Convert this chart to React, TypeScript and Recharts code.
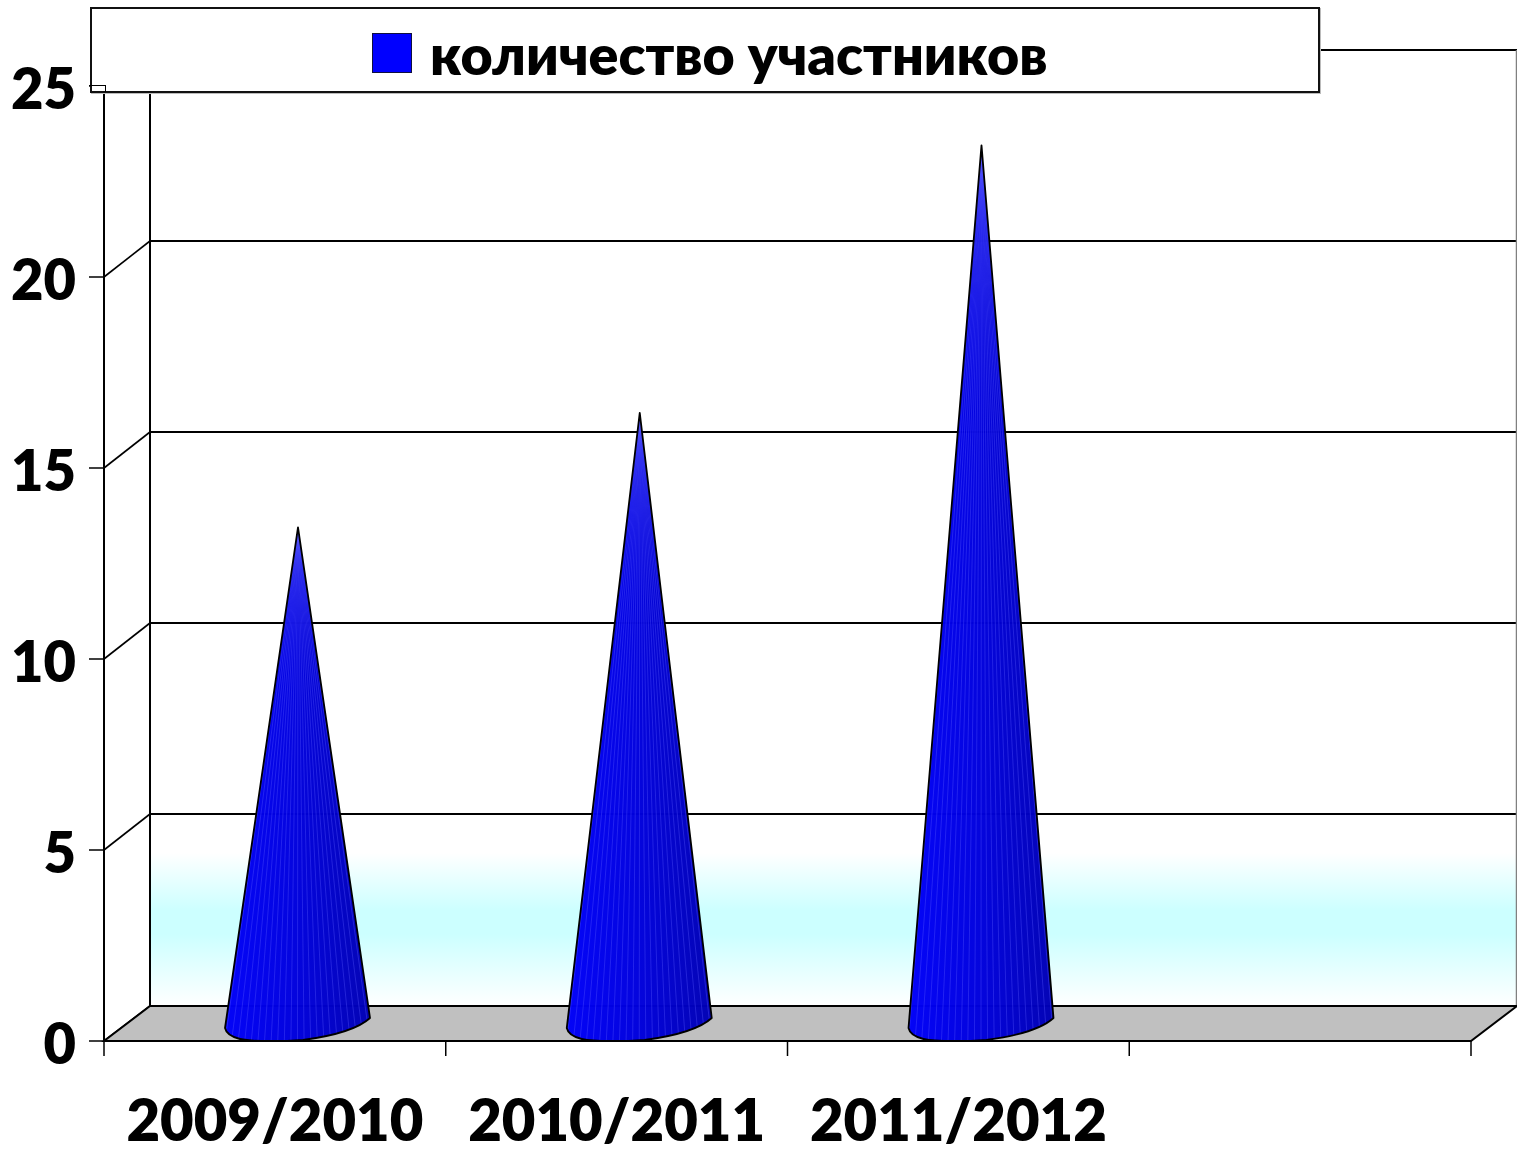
import React from 'react';
import {
  BarChart,
  Bar,
  XAxis,
  YAxis,
  CartesianGrid,
  Legend,
  usePlotArea,
} from 'recharts';

const seasons = ['2009/2010', '2010/2011', '2011/2012', ''];
const participants = [13, 16, 23, null];
const yTicks = [0, 5, 10, 15, 20, 25];
const seriesName = 'количество участников';

const data = seasons.map((season, i) => ({ season, participants: participants[i] }));

const FONT = 'Lato, Carlito, "Open Sans", sans-serif';
const DEPTH_X = 46;
const DEPTH_Y = 36;

// side wall, floor and the category tick marks
function Walls() {
  const plot = usePlotArea();
  if (!plot) return null;
  const left = plot.x;
  const right = plot.x + plot.width;
  const top = plot.y;
  const bottom = plot.y + plot.height;
  const floorY = bottom - 35;
  const backTop = top - DEPTH_Y;
  const step = plot.width / seasons.length;

  return (
    <g>
      <line
        x1={right + DEPTH_X - 0.5}
        y1={backTop}
        x2={right + DEPTH_X - 0.5}
        y2={floorY}
        stroke="#808080"
        strokeWidth={1.5}
      />
      <line
        x1={left + DEPTH_X}
        y1={backTop}
        x2={left + DEPTH_X}
        y2={floorY}
        stroke="#000"
        strokeWidth={2}
      />
      <polygon
        points={`${left},${bottom} ${left + DEPTH_X},${floorY} ${right + DEPTH_X},${floorY} ${right},${bottom}`}
        fill="#c0c0c0"
        stroke="#000"
        strokeWidth={2}
      />
      {[...seasons, 'end'].map((s, i) => (
        <line
          key={s + i}
          x1={left + i * step}
          y1={bottom}
          x2={left + i * step}
          y2={bottom + 15}
          stroke="#000"
          strokeWidth={1.5}
        />
      ))}
    </g>
  );
}

function gridLine(p: any) {
  const backY = p.y1 - DEPTH_Y + (p.y1 > 1000 ? 1 : 0);
  return (
    <g key={p.key ?? p.y1}>
      <line x1={p.x1 - DEPTH_X} y1={p.y1} x2={p.x1} y2={backY} stroke="#000" strokeWidth={1.6} />
      <line x1={p.x1} y1={backY} x2={p.x2} y2={backY} stroke="#000" strokeWidth={1.8} />
    </g>
  );
}

function Cone(props: any) {
  const { x, y, width, height, index } = props;
  if (!height) return null;
  const cx = x + width / 2 + 23;
  const b = y + height;
  const apexY = y - 17;
  const outline =
    `M${cx},${apexY} L${cx + 72},${b - 23} ` +
    `C${cx + 60},${b - 12} ${cx + 35},${b - 5} ${cx + 5},${b - 1} ` +
    `C${cx - 15},${b + 0.5} ${cx - 45},${b + 1} ${cx - 58},${b - 2} ` +
    `C${cx - 66},${b - 4} ${cx - 72},${b - 8} ${cx - 73},${b - 13} Z`;
  const clipId = `coneClip${index}`;
  const stripes = Array.from({ length: 23 }, (_, i) => cx - 73 + (i * 145) / 22);

  return (
    <g>
      <defs>
        <clipPath id={clipId}>
          <path d={outline} />
        </clipPath>
      </defs>
      <path d={outline} fill="url(#coneFill)" fillOpacity={0.98} />
      <g clipPath={`url(#${clipId})`}>
        {stripes.map((sx) => (
          <line
            key={sx}
            x1={cx}
            y1={apexY}
            x2={sx}
            y2={b}
            stroke="#5a5aff"
            strokeOpacity={0.45}
            strokeWidth={0.8}
          />
        ))}
      </g>
      <path d={outline} fill="none" stroke="#000" strokeWidth={1.8} strokeLinejoin="round" />
    </g>
  );
}

function LegendBox({ payload }: any) {
  const label = payload && payload[0] ? payload[0].value : seriesName;
  return (
    <div
      style={{
        position: 'relative',
        boxSizing: 'border-box',
        width: 1230,
        height: 86,
        background: '#fff',
        border: '2px solid #111',
        boxShadow: '1px 1px 0 #bbb',
      }}
    >
      {/* the top of the value axis shows through the box */}
      <div
        style={{
          position: 'absolute',
          left: -3,
          top: 76,
          width: 16,
          height: 6,
          borderTop: '1.5px solid #000',
          borderRight: '1.5px solid #000',
        }}
      />
      <div
        style={{
          position: 'absolute',
          left: 280,
          top: 24,
          boxSizing: 'border-box',
          width: 40,
          height: 40,
          background: '#0000ff',
          border: '1.5px solid #101040',
        }}
      />
      <div
        style={{
          position: 'absolute',
          left: 338,
          top: 9,
          fontFamily: FONT,
          fontWeight: 800,
          fontSize: 55.5,
          lineHeight: '72px',
          whiteSpace: 'nowrap',
          color: '#000',
        }}
      >
        {label}
      </div>
    </div>
  );
}

export default function App() {
  return (
    <div style={{ position: 'absolute', left: 0, top: 0, width: 1517, height: 1153 }}>
      <BarChart
        width={1517}
        height={1153}
        data={data}
        margin={{ top: 86, right: 46, bottom: 0, left: 0 }}
        barSize={146}
      >
        <defs>
          <linearGradient id="coneFill" x1="0" y1="0" x2="1" y2="0">
            <stop offset="0" stopColor="#0000f8" />
            <stop offset="0.45" stopColor="#0000e0" />
            <stop offset="1" stopColor="#0000b4" />
          </linearGradient>
          <linearGradient id="wallFill" x1="0" y1="0" x2="0" y2="1">
            <stop offset="0.84" stopColor="#ffffff" />
            <stop offset="0.9" stopColor="#ccffff" />
            <stop offset="0.925" stopColor="#ccffff" />
            <stop offset="1" stopColor="#ffffff" />
          </linearGradient>
        </defs>
        <CartesianGrid
          x={150}
          y={50}
          width={1367}
          height={956}
          fill="url(#wallFill)"
          fillOpacity={1}
          horizontal={gridLine}
          vertical={false}
        />
        <Walls />
        <XAxis
          dataKey="season"
          height={112}
          interval={0}
          tickLine={false}
          tickMargin={53}
          axisLine={{ stroke: '#000', strokeWidth: 2 }}
          tick={{ fontFamily: FONT, fontWeight: 800, fontSize: 58, fill: '#000' }}
        />
        <YAxis
          width={104}
          domain={[0, 25]}
          ticks={yTicks}
          interval={0}
          tickSize={15}
          tickMargin={13}
          axisLine={{ stroke: '#000', strokeWidth: 2 }}
          tickLine={{ stroke: '#000', strokeWidth: 1.5 }}
          tick={{ fontFamily: FONT, fontWeight: 800, fontSize: 56, fill: '#000', dy: 3 }}
        />
        <Legend
          verticalAlign="middle"
          content={<LegendBox />}
          wrapperStyle={{ left: 90, top: 7, width: 1230, height: 86 }}
        />
        <Bar
          dataKey="participants"
          name={seriesName}
          fill="#0000ff"
          shape={<Cone />}
          isAnimationActive={false}
        />
      </BarChart>
    </div>
  );
}
